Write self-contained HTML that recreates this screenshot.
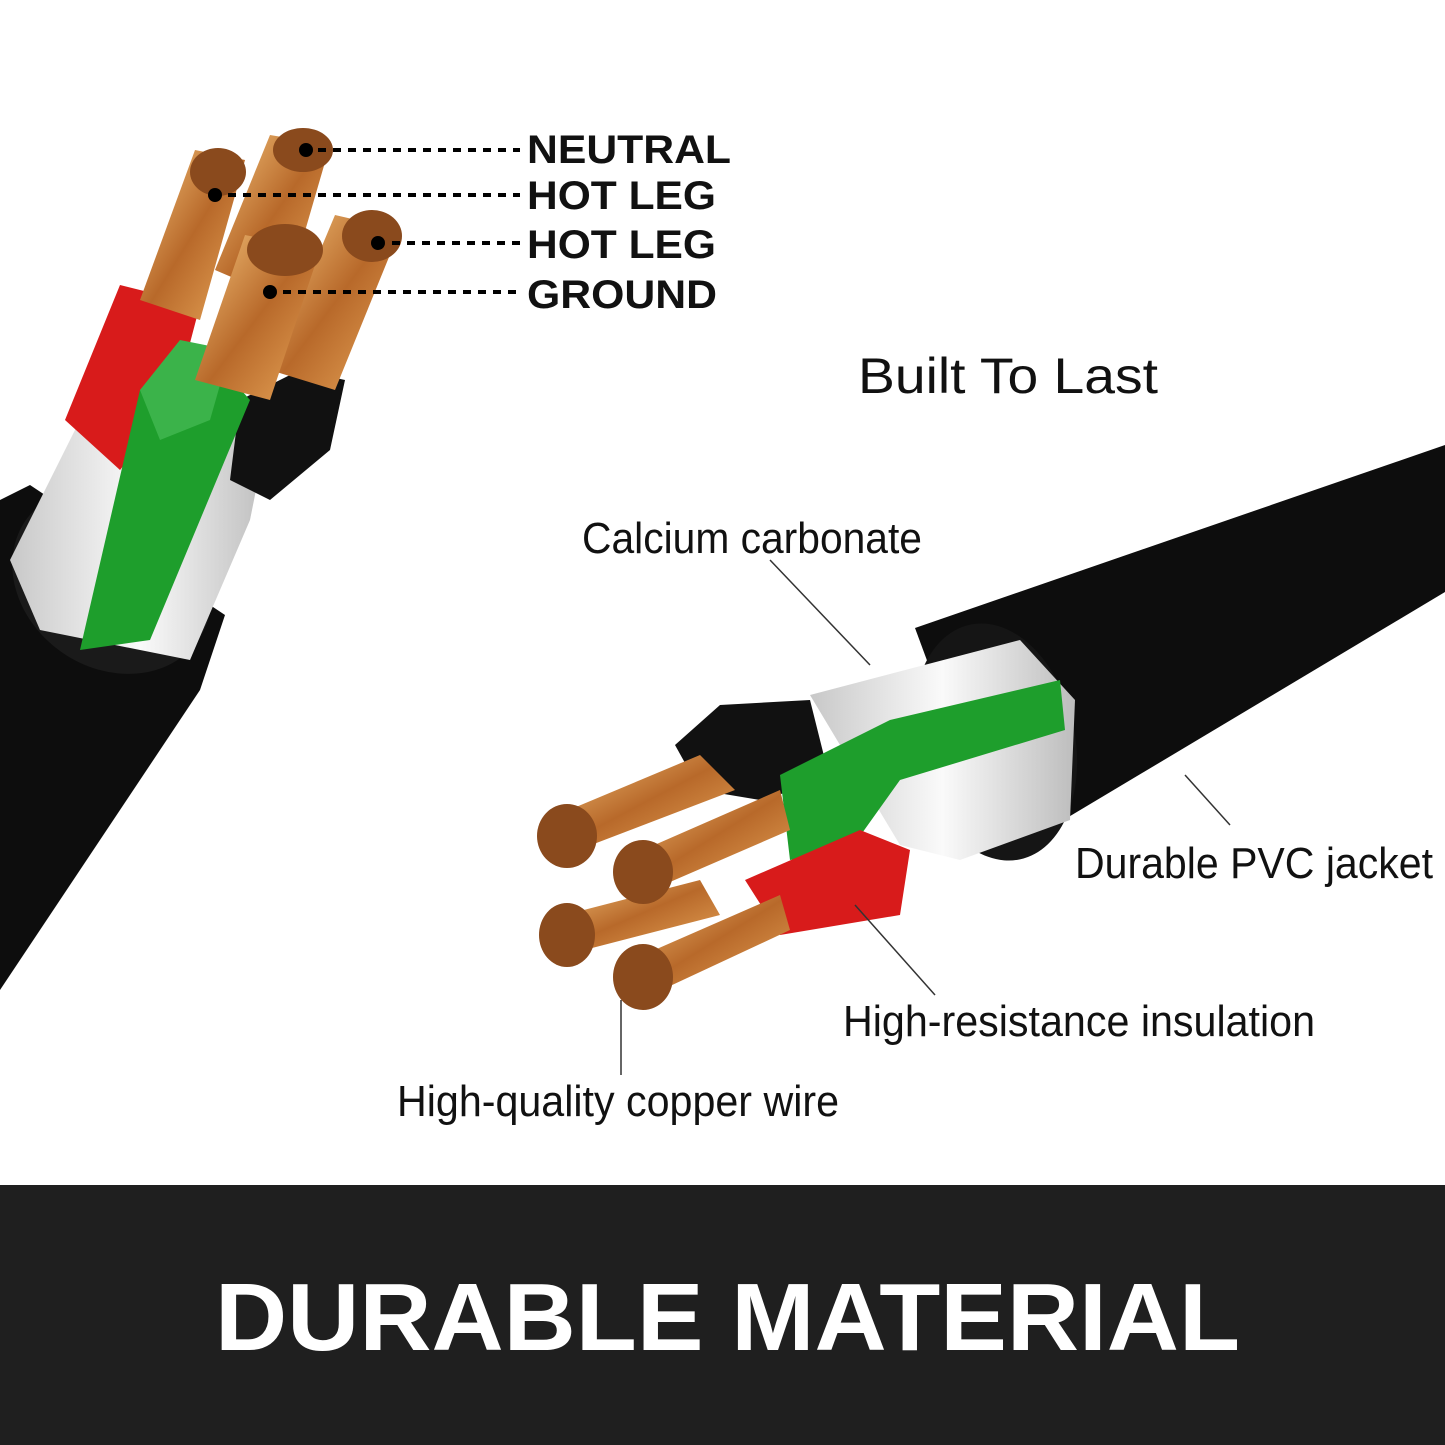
<!DOCTYPE html>
<html><head><meta charset="utf-8"><style>
html,body{margin:0;padding:0;background:#fff;}
svg{display:block}
text{font-family:"Liberation Sans",sans-serif}
</style></head><body>
<svg width="1445" height="1445" viewBox="0 0 1445 1445" xmlns="http://www.w3.org/2000/svg">
<defs>
<linearGradient id="cu" x1="0" y1="0" x2="1" y2="1">
<stop offset="0" stop-color="#f3c27a"/><stop offset=".5" stop-color="#b8692a"/><stop offset="1" stop-color="#e8a75a"/>
</linearGradient>
<linearGradient id="wh" x1="0" y1="0" x2="1" y2="0">
<stop offset="0" stop-color="#c8c8c8"/><stop offset=".5" stop-color="#fafafa"/><stop offset="1" stop-color="#bdbdbd"/>
</linearGradient>
</defs>
<rect width="1445" height="1445" fill="#fff"/>

<!-- LEFT CABLE -->
<polygon points="0,500 30,485 225,615 200,690 0,990" fill="#0d0d0d"/>
<ellipse cx="112" cy="580" rx="105" ry="88" transform="rotate(35 112 580)" fill="#1a1a1a"/>
<polygon points="10,560 90,400 270,420 250,520 190,660 40,630" fill="url(#wh)"/>
<polygon points="240,400 300,370 345,380 330,450 270,500 230,480" fill="#111"/>
<polygon points="65,420 120,285 200,305 175,400 120,470" fill="#d81b1b"/>
<polygon points="80,650 140,390 210,355 250,400 150,640" fill="#1e9e2c"/>
<polygon points="140,390 180,340 230,350 210,420 160,440" fill="#3bb34a"/>
<!-- copper strands left -->
<polygon points="140,300 195,150 245,160 200,320" fill="url(#cu)"/>
<polygon points="215,270 270,135 330,145 285,300" fill="url(#cu)"/>
<polygon points="270,370 335,215 400,230 335,390" fill="url(#cu)"/>
<polygon points="195,380 245,235 320,250 270,400" fill="url(#cu)"/>
<ellipse cx="218" cy="172" rx="28" ry="24" fill="#8a4a1d"/>
<ellipse cx="303" cy="150" rx="30" ry="22" fill="#8a4a1d"/>
<ellipse cx="372" cy="236" rx="30" ry="26" fill="#8a4a1d"/>
<ellipse cx="285" cy="250" rx="38" ry="26" fill="#8a4a1d"/>
<!-- dots + dashes -->
<g fill="#000">
<circle cx="306" cy="150" r="7"/><circle cx="215" cy="195" r="7"/>
<circle cx="378" cy="243" r="7"/><circle cx="270" cy="292" r="7"/>
</g>
<g stroke="#000" stroke-width="4" stroke-dasharray="8,7">
<line x1="318" y1="150" x2="520" y2="150"/>
<line x1="228" y1="195" x2="520" y2="195"/>
<line x1="392" y1="243" x2="520" y2="243"/>
<line x1="283" y1="292" x2="520" y2="292"/>
</g>
<g font-weight="bold" font-size="40" fill="#111">
<text x="527" y="163" textLength="204" lengthAdjust="spacingAndGlyphs">NEUTRAL</text>
<text x="527" y="209" textLength="189" lengthAdjust="spacingAndGlyphs">HOT LEG</text>
<text x="527" y="258" textLength="189" lengthAdjust="spacingAndGlyphs">HOT LEG</text>
<text x="527" y="308" textLength="190" lengthAdjust="spacingAndGlyphs">GROUND</text>
</g>

<text x="858" y="393" font-size="50" fill="#111" textLength="300" lengthAdjust="spacingAndGlyphs">Built To Last</text>

<!-- RIGHT CABLE -->
<polygon points="915,628 1445,445 1445,592 1000,858" fill="#0d0d0d"/>
<ellipse cx="995" cy="742" rx="80" ry="120" transform="rotate(-12 995 742)" fill="#151515"/>
<polygon points="810,695 1020,640 1075,700 1070,820 960,860 900,845" fill="url(#wh)"/>
<polygon points="675,745 720,705 810,700 830,780 760,800 700,790" fill="#111"/>
<polygon points="780,775 890,720 1060,680 1065,730 900,780 850,850 790,860" fill="#1e9e2c"/>
<polygon points="745,880 860,830 910,850 900,915 780,935" fill="#d81b1b"/>
<!-- copper right -->
<polygon points="545,820 700,755 735,790 565,855" fill="url(#cu)"/>
<polygon points="620,860 780,790 790,830 640,895" fill="url(#cu)"/>
<polygon points="545,920 700,880 720,915 565,955" fill="url(#cu)"/>
<polygon points="620,965 780,895 790,930 640,1000" fill="url(#cu)"/>
<ellipse cx="567" cy="836" rx="30" ry="32" fill="#8a4a1d"/>
<ellipse cx="643" cy="872" rx="30" ry="32" fill="#8a4a1d"/>
<ellipse cx="567" cy="935" rx="28" ry="32" fill="#8a4a1d"/>
<ellipse cx="643" cy="977" rx="30" ry="33" fill="#8a4a1d"/>

<g stroke="#333" stroke-width="1.5">
<line x1="770" y1="560" x2="870" y2="665"/>
<line x1="1185" y1="775" x2="1230" y2="825"/>
<line x1="855" y1="905" x2="935" y2="995"/>
<line x1="621" y1="1000" x2="621" y2="1075"/>
</g>
<g font-size="44" fill="#111">
<text x="582" y="553" textLength="340" lengthAdjust="spacingAndGlyphs">Calcium carbonate</text>
<text x="1075" y="878" textLength="358" lengthAdjust="spacingAndGlyphs">Durable PVC jacket</text>
<text x="843" y="1036" textLength="472" lengthAdjust="spacingAndGlyphs">High-resistance insulation</text>
<text x="397" y="1116" textLength="442" lengthAdjust="spacingAndGlyphs">High-quality copper wire</text>
</g>

<!-- BOTTOM BAND -->
<rect x="0" y="1185" width="1445" height="260" fill="#1f1f1f"/>
<text x="215" y="1350" font-size="96" font-weight="bold" fill="#fff" textLength="1025" lengthAdjust="spacingAndGlyphs">DURABLE MATERIAL</text>
</svg>
</body></html>
